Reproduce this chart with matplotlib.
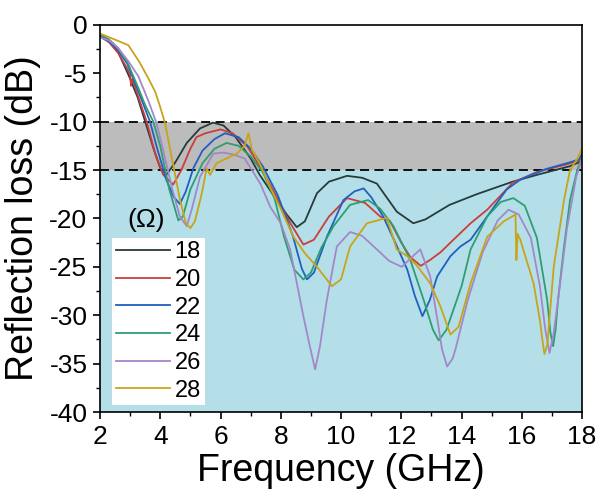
import matplotlib
matplotlib.use('Agg')
import matplotlib.pyplot as plt
from matplotlib.ticker import MultipleLocator

plt.rcParams['font.family'] = ['Liberation Sans', 'DejaVu Sans']
plt.rcParams['axes.unicode_minus'] = False

# frequency (GHz) / reflection loss (dB)
f18 = [2.0, 2.3, 2.6, 2.95, 3.25, 3.5, 3.8, 4.0, 4.2, 4.5, 4.88, 5.32, 5.75, 6.1, 6.5, 7.0, 7.3,
       7.8, 8.2, 8.53, 8.8, 9.2, 9.6, 10.2, 10.7, 11.19, 11.85, 12.4, 12.8, 13.6, 14.5, 15.7, 16.5,
       17.6, 17.9, 18.0]
r18 = [-1.1, -1.7, -2.8, -5.2, -7.5, -10.0, -13.0, -14.8, -15.5, -14.2, -12.2, -10.7, -10.1, -10.4,
       -11.6, -13.8, -15.5, -17.8, -19.6, -20.9, -20.3, -17.4, -16.2, -15.6, -15.8, -16.4, -19.3,
       -20.5, -20.1, -18.6, -17.5, -16.2, -15.5, -14.6, -14.2, -13.6]

f20 = [2.0, 2.3, 2.6, 2.9, 3.0, 3.03, 3.07, 3.3, 3.55, 3.85, 4.1, 4.43, 4.7, 5.0, 5.2, 5.5, 6.0,
       6.4, 6.9, 7.3, 7.8, 8.3, 8.75, 9.1, 9.6, 10.2, 10.8, 11.3, 11.63, 12.0, 12.3, 12.65, 12.95,
       13.3, 13.73, 14.3, 14.85, 15.4, 15.7, 16.5, 17.5, 17.9, 18.0]
r20 = [-1.2, -1.8, -2.9, -4.5, -5.2, -6.3, -5.6, -7.7, -10.0, -13.5, -15.5, -16.5, -15.0, -12.8,
       -11.6, -11.2, -10.8, -11.2, -12.6, -14.6, -17.4, -20.4, -22.7, -22.2, -19.8, -17.9, -18.4,
       -19.8, -20.3, -22.5, -24.0, -24.9, -24.3, -23.5, -22.2, -20.5, -19.1, -17.3, -16.3, -15.2,
       -14.4, -14.0, -13.5]

f22 = [2.0, 2.3, 2.6, 2.9, 3.2, 3.45, 3.66, 3.9, 4.2, 4.45, 4.65, 4.85, 5.1, 5.4, 5.8, 6.15, 6.6,
       7.0, 7.4, 7.9, 8.4, 8.7, 8.87, 9.1, 9.53, 10.08, 10.45, 10.75, 11.0, 11.4, 11.8, 12.2, 12.45,
       12.7, 12.95, 13.19, 13.63, 13.96, 14.3, 14.85, 15.5, 15.95, 16.8, 17.6, 17.9, 18.0]
r22 = [-1.2, -1.7, -2.6, -4.0, -6.3, -8.3, -10.0, -12.8, -16.0, -17.8, -18.5, -17.2, -14.8, -13.0,
       -11.8, -11.2, -11.6, -12.8, -14.6, -17.6, -21.8, -25.2, -26.3, -25.6, -21.9, -18.1, -17.2,
       -16.9, -17.8, -19.8, -22.5, -25.3, -28.0, -30.1, -28.4, -26.0, -23.9, -22.9, -22.2, -19.8,
       -17.0, -16.0, -14.9, -14.2, -13.9, -13.3]

f24 = [2.0, 2.3, 2.6, 2.9, 3.27, 3.5, 3.77, 4.0, 4.3, 4.6, 4.75, 5.0, 5.4, 5.8, 6.2, 6.6, 7.0,
       7.4, 7.8, 8.1, 8.45, 8.75, 9.0, 9.35, 9.75, 10.3, 10.9, 11.3, 11.74, 12.3, 12.74, 13.05,
       13.24, 13.5, 14.0, 14.3, 14.85, 15.3, 15.72, 16.1, 16.5, 16.84, 16.95, 17.04, 17.12, 17.2,
       17.39, 17.6, 17.84, 18.0]
r24 = [-1.0, -1.5, -2.4, -3.8, -6.5, -8.3, -10.0, -12.5, -17.0, -20.2, -19.8, -17.0, -14.3, -12.8,
       -12.2, -12.5, -13.6, -15.2, -18.0, -21.8, -25.3, -26.3, -25.6, -23.0, -20.8, -18.6, -18.1,
       -19.0, -20.8, -24.3, -28.4, -31.5, -32.6, -31.5, -27.0, -23.2, -19.8, -18.3, -17.9, -18.7,
       -22.0, -28.4, -31.8, -33.2, -31.5, -28.5, -23.2, -18.1, -15.0, -13.6]

f26 = [2.0, 2.3, 2.6, 2.95, 3.27, 3.6, 3.88, 4.1, 4.4, 4.65, 4.88, 5.05, 5.32, 5.76, 6.1, 6.43,
       6.8, 7.32, 7.65, 8.0, 8.31, 8.75, 8.95, 9.14, 9.3, 9.53, 9.86, 10.3, 10.7, 11.19, 11.6,
       12.02, 12.35, 12.63, 12.96, 13.2, 13.35, 13.52, 13.7, 13.8, 14.2, 14.7, 15.2, 15.56, 15.9,
       16.3, 16.6, 16.78, 16.92, 17.05, 17.2, 17.5, 17.8, 18.0]
r26 = [-1.3, -1.6, -2.4, -3.8, -5.3, -7.8, -10.2, -13.0, -17.0, -19.8, -20.8, -19.0, -15.7, -13.3,
       -13.2, -13.4, -13.8, -16.4, -18.8, -20.5, -23.2, -30.1, -33.0, -35.6, -33.2, -28.4, -22.9,
       -21.4, -21.8, -23.2, -24.4, -25.0, -24.0, -23.2, -26.0, -30.5, -33.5, -35.3, -34.5, -33.5,
       -28.5, -23.5, -20.2, -19.1, -19.6, -22.0, -27.0, -31.5, -33.9, -32.0, -28.5, -21.0, -15.8,
       -13.8]

f28 = [2.0, 2.4, 2.94, 3.3, 3.6, 3.83, 4.0, 4.16, 4.4, 4.65, 4.85, 5.0, 5.15, 5.38, 5.54, 5.65,
       5.87, 6.2, 6.54, 6.8, 6.93, 7.04, 7.3, 7.65, 8.0, 8.42, 8.8, 9.2, 9.7, 10.0, 10.3, 10.86,
       11.52, 11.85, 12.2, 12.5, 12.96, 13.3, 13.63, 13.9, 14.3, 14.85, 15.4, 15.79, 15.82, 15.86,
       15.95, 16.39, 16.6, 16.68, 16.75, 16.85, 16.9, 17.06, 17.4, 17.6, 17.85, 18.0]
r28 = [-0.9, -1.4, -2.1, -3.8, -5.5, -6.9, -8.5, -10.2, -14.0, -18.0, -20.5, -21.0, -20.3, -17.4,
       -14.8, -15.5, -14.3, -13.8, -13.3, -12.5, -11.2, -12.9, -14.3, -16.8, -19.0, -21.9, -23.6,
       -25.0, -27.0, -26.3, -22.9, -20.5, -19.95, -23.2, -23.9, -24.8, -26.7, -29.1, -32.0, -31.2,
       -26.7, -21.9, -20.3, -19.6, -24.3, -21.6, -22.2, -26.7, -30.5, -32.5, -34.0, -33.0, -31.0,
       -25.0, -18.1, -15.0, -13.8, -12.8]

labels = ['18', '20', '22', '24', '26', '28']
colors = ['#263c3a', '#cc3d3d', '#1f60c0', '#2e9e72', '#a387c9', '#c8a41a']
freqs = [f18, f20, f22, f24, f26, f28]
losses = [r18, r20, r22, r24, r26, r28]

fig = plt.figure(figsize=(5.97, 4.97), dpi=100)
ax = fig.add_axes([0.1675, 0.171, 0.8075, 0.779])

# shaded bands
ax.axhspan(-40, -15, color='#b5dfe8', lw=0, zorder=0)
ax.axhspan(-15, -10, color='#bcbcbc', lw=0, zorder=0)
ax.axhline(-10, color='black', lw=1.3, ls=(0, (5, 3)), zorder=1)
ax.axhline(-15, color='black', lw=1.3, ls=(0, (5, 3)), zorder=1)

for f, r, c, lab in zip(freqs, losses, colors, labels):
    ax.plot(f, r, color=c, lw=1.3, label=lab, zorder=2)

ax.set_xlim(2, 18)
ax.set_ylim(-40, 0)
ax.xaxis.set_major_locator(MultipleLocator(2))
ax.xaxis.set_minor_locator(MultipleLocator(1))
ax.yaxis.set_major_locator(MultipleLocator(5))
ax.yaxis.set_minor_locator(MultipleLocator(2.5))
ax.tick_params(which='major', direction='out', length=5, width=1.2, labelsize=19, pad=4,
               top=False, right=False)
ax.tick_params(which='minor', direction='out', length=3, width=1.0, top=False, right=False)
for s in ax.spines.values():
    s.set_linewidth(1.2)

ax.set_xlabel('Frequency (GHz)', fontsize=27, labelpad=3)
ax.set_ylabel('Reflection loss (dB)', fontsize=27, labelpad=6)

leg = ax.legend(loc='lower left', bbox_to_anchor=(0.025, 0.018), borderaxespad=0,
                fontsize=17, frameon=True, fancybox=False, framealpha=1,
                facecolor='white', edgecolor='none', handlelength=2.3,
                handletextpad=0.2, labelspacing=0.24, borderpad=0.15)
ax.text(0.057, 0.495, '(\u03a9)', transform=ax.transAxes, fontsize=19, ha='left', va='center')

fig.savefig('out.png', dpi=100)
